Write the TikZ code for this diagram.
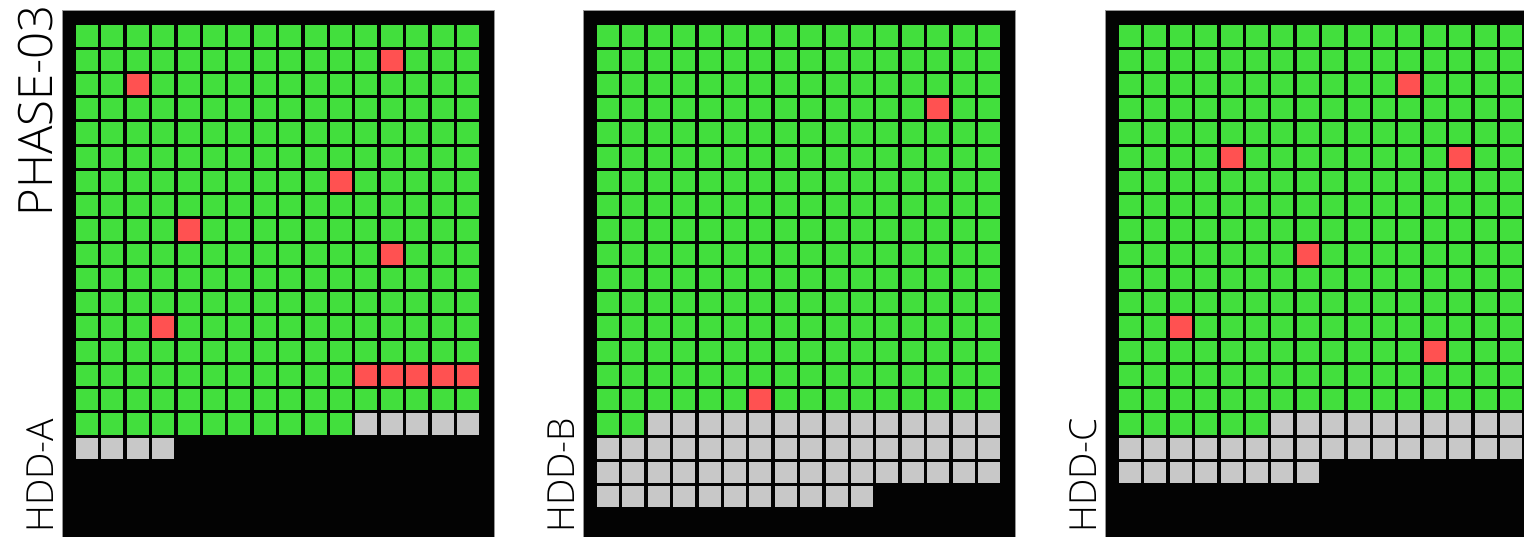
\documentclass[tikz,border=0pt]{standalone}
\usepackage{fontspec}
\IfFontExistsTF{Open Sans Light}{\setmainfont{Open Sans Light}}{\setmainfont{Open Sans}}
\definecolor{DiskBlack}{RGB}{3,3,3}
\definecolor{DiskEdge}{RGB}{150,150,150}
\definecolor{BlockUsed}{RGB}{66,223,61}
\definecolor{BlockBad}{RGB}{255,81,81}
\definecolor{BlockFree}{RGB}{200,200,200}

\begin{document}
\begin{tikzpicture}[x=0.75pt,y=-0.75pt]
        \useasboundingbox (0,0) rectangle (1524,536);

        \node[font=\fontsize{35.5}{40}\selectfont,rotate=90,anchor=base east,inner sep=0] (phase) at (52,5) {PHASE-03};

        \foreach \px/\used/\total/\bad/\name in {
            62/267/276/{1/12,2/2,6/10,8/4,9/12,12/3,14/11,14/12,14/13,14/14,14/15}/A,
            583/258/315/{3/13,15/6}/B,
            1105/262/296/{2/11,5/4,5/13,9/7,12/2,13/12}/C} {
          \fill[DiskBlack,draw=DiskEdge,line width=0.4pt] (\px,10) rectangle ++(432,540);

          % used and free blocks, row by row
          \foreach \n in {1,...,\total} {
            \pgfmathtruncatemacro\row{(\n-1)/16}
            \pgfmathtruncatemacro\col{mod(\n-1,16)}
            \ifnum\n>\used \def\blk{BlockFree}\else \def\blk{BlockUsed}\fi
            \fill[\blk] (\px+14+\col*25.4,25.3+\row*24.25) rectangle ++(22,21.3);
          }

          % bad blocks
          \foreach \row/\col in \bad {
            \fill[BlockBad] (\px+14+\col*25.4,25.3+\row*24.25) rectangle ++(22,21.3);
          }

          \node[font=\fontsize{28}{32}\selectfont,rotate=90,anchor=base west,inner sep=0] (hdd\name) at (\px-9,533) {HDD-\name};
        }
      \end{tikzpicture}
\end{document}
